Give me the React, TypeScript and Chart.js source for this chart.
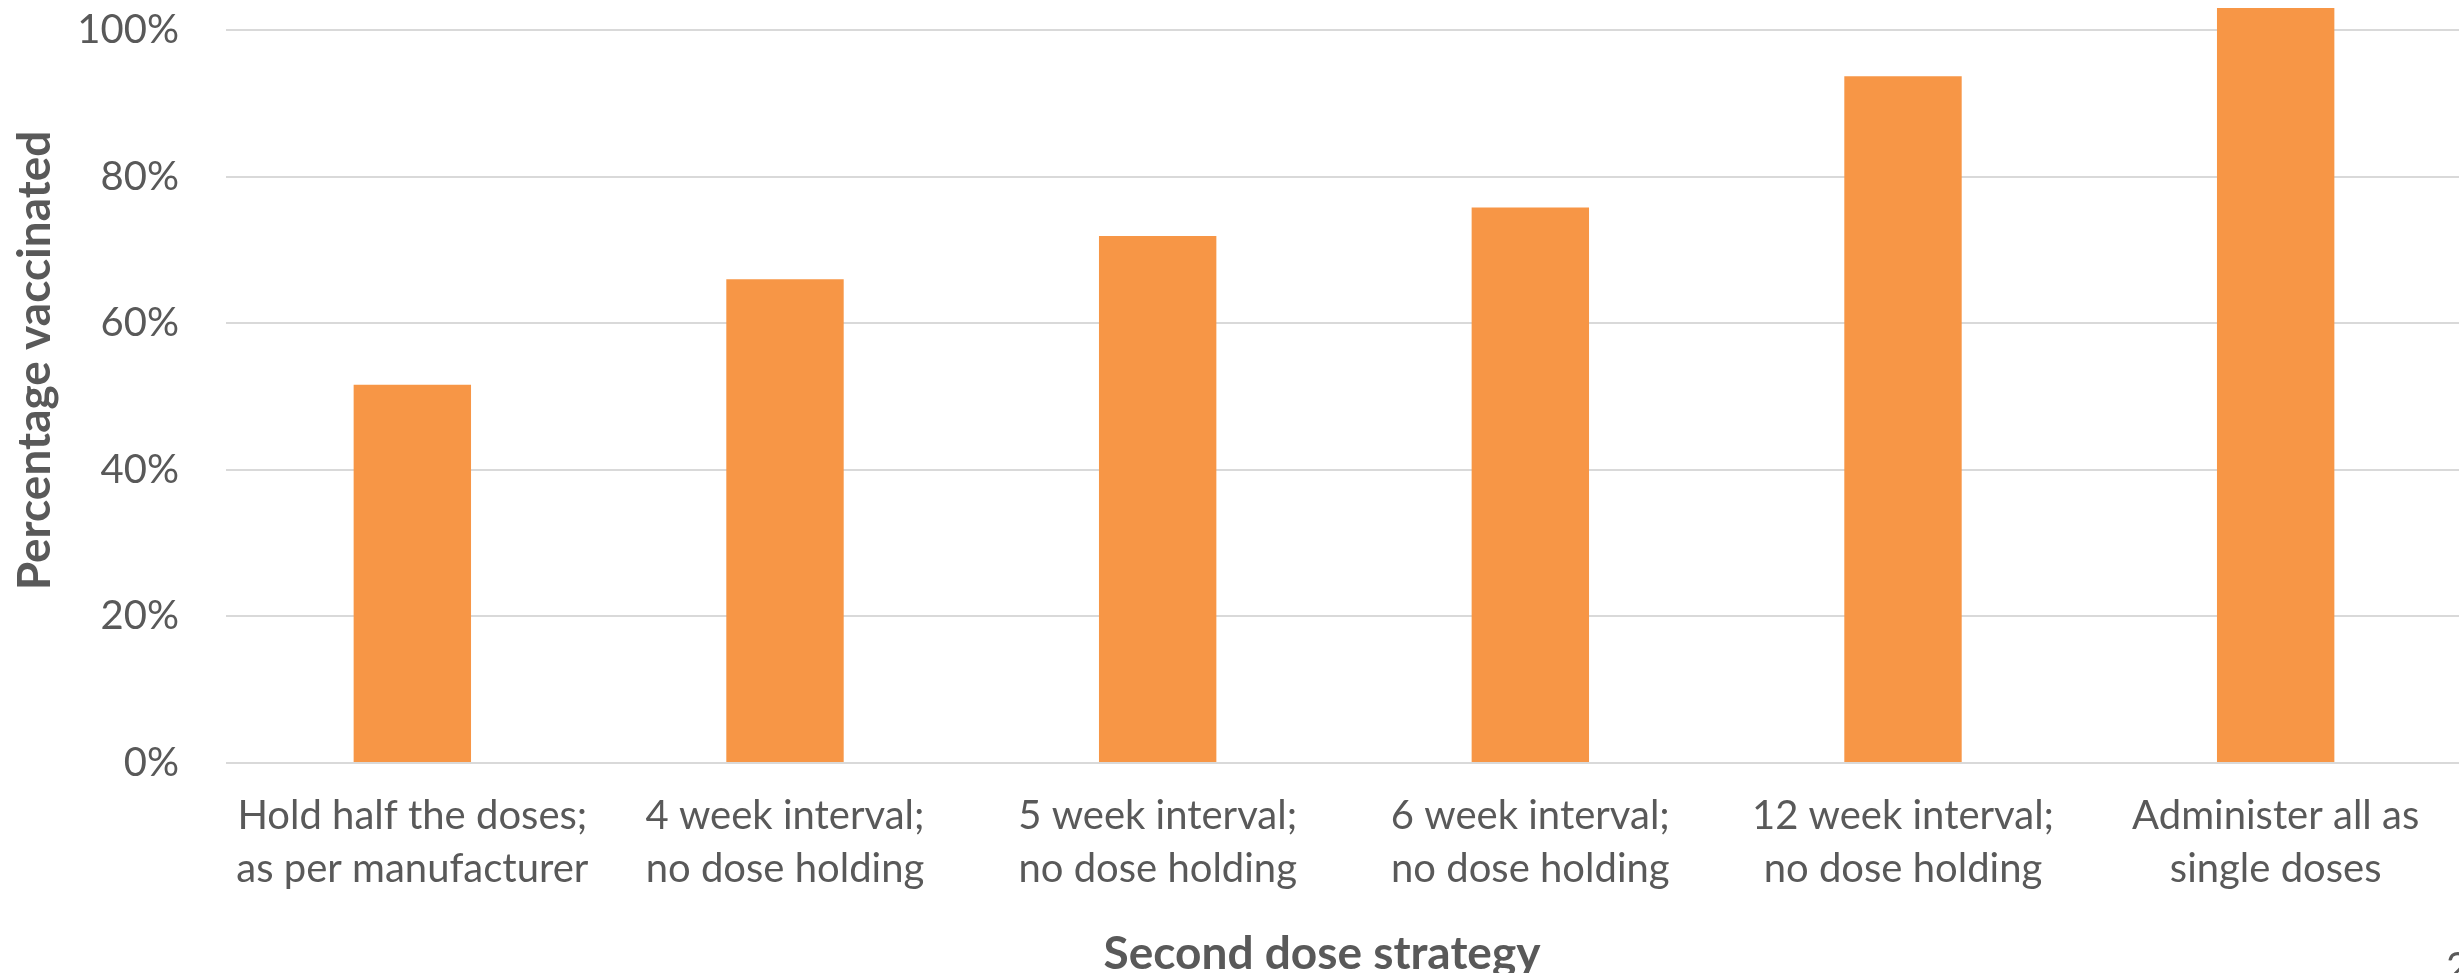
import React, { useEffect, useRef } from "react";
import { Chart, registerables } from "chart.js";

Chart.register(...registerables);

// Strategy labels (two lines each) and the share of people vaccinated under each.
const categories: string[][] = [
  ["Hold half the doses;", "as per manufacturer"],
  ["4 week interval;", "no dose holding"],
  ["5 week interval;", "no dose holding"],
  ["6 week interval;", "no dose holding"],
  ["12 week interval;", "no dose holding"],
  ["Administer all as", "single doses"],
];
const percentVaccinated: number[] = [51.6, 66.0, 71.9, 75.8, 93.7, 103.0];
const yTickValues: number[] = [0, 20, 40, 60, 80, 100];
const yTitle = "Percentage vaccinated";
const xTitle = "Second dose strategy";
const pageNumber = "2";

const FONT = "Lato, 'Open Sans', sans-serif";
const TEXT = "#595959";
const GRID = "#D9D9D9";
const BAR = "#F79646";

const CANVAS_W = 2480;
const CANVAS_H = 973;

// Axis titles and the slide number, drawn around the plot area.
const slideText = {
  id: "slideText",
  afterDraw(chart: any) {
    const { ctx, chartArea } = chart;
    ctx.save();
    ctx.fillStyle = TEXT;

    ctx.font = `bold 46px ${FONT}`;
    ctx.textAlign = "center";
    ctx.textBaseline = "alphabetic";
    ctx.fillText(xTitle, (chartArea.left + chartArea.right) / 2 - 22, chartArea.bottom + 206);

    ctx.save();
    ctx.translate(50, (chartArea.top + chartArea.bottom) / 2 - 36);
    ctx.rotate(-Math.PI / 2);
    ctx.fillText(yTitle, 0, 0);
    ctx.restore();

    ctx.font = `40px ${FONT}`;
    ctx.textAlign = "left";
    ctx.fillText(pageNumber, 2446, chartArea.bottom + 218);
    ctx.restore();
  },
};

export default function App() {
  const canvasRef = useRef<HTMLCanvasElement | null>(null);

  useEffect(() => {
    const canvas = canvasRef.current;
    if (!canvas) return;
    const chart = new Chart(canvas, {
      type: "bar",
      data: {
        labels: categories,
        datasets: [
          {
            label: yTitle,
            data: percentVaccinated,
            backgroundColor: BAR,
            borderWidth: 0,
            categoryPercentage: 1,
            barPercentage: 0.315,
            clip: false,
          },
        ],
      },
      options: {
        animation: false,
        responsive: false,
        maintainAspectRatio: false,
        devicePixelRatio: 1,
        layout: { padding: { top: 30, right: 18, bottom: 0, left: 0 } },
        plugins: {
          legend: { display: false },
          tooltip: { enabled: false },
          title: { display: false },
        },
        scales: {
          x: {
            grid: { display: false, drawTicks: false },
            border: { display: false },
            ticks: {
              color: TEXT,
              font: { family: FONT, size: 40, lineHeight: "53px" },
              padding: 27,
              autoSkip: false,
              maxRotation: 0,
              minRotation: 0,
            },
            afterFit(scale: any) {
              scale.height = 210;
            },
          },
          y: {
            min: 0,
            max: 100,
            grid: { color: GRID, lineWidth: 2, drawTicks: false },
            border: { display: false },
            afterBuildTicks(scale: any) {
              scale.ticks = yTickValues.map((v) => ({ value: v }));
            },
            ticks: {
              color: TEXT,
              font: { family: FONT, size: 40 },
              padding: 47,
              callback: (v: any) => `${v}%`,
            },
            afterFit(scale: any) {
              scale.width = 226;
              scale.paddingTop = 0;
              scale.paddingBottom = 0;
            },
          },
        },
      },
      plugins: [slideText],
    });
    return () => chart.destroy();
  }, []);

  return (
    <div
      style={{
        position: "fixed",
        left: 0,
        top: 0,
        width: 2459,
        height: 973,
        overflow: "hidden",
        background: "#ffffff",
      }}
    >
      <canvas
        ref={canvasRef}
        width={CANVAS_W}
        height={CANVAS_H}
        style={{ display: "block", width: CANVAS_W, height: CANVAS_H }}
      />
    </div>
  );
}
